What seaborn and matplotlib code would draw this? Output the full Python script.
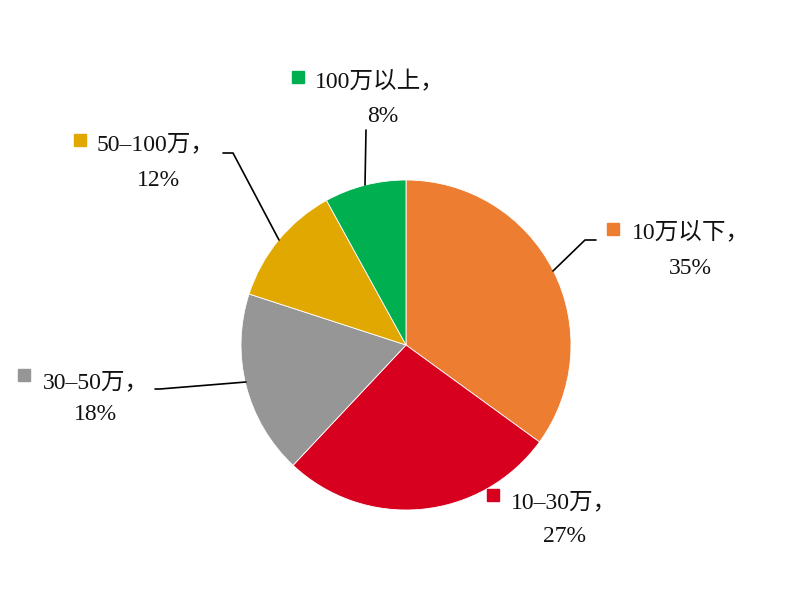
import matplotlib
matplotlib.use("Agg")
import matplotlib.pyplot as plt
import seaborn as sns

# data (clockwise from 12 o'clock)
labels = ["10万以下", "10–30万", "30–50万", "50–100万", "100万以上"]
shares = [35, 27, 18, 12, 8]
colors = ["#ED7D31", "#D7001F", "#969696", "#E0A800", "#00B050"]

sns.set_theme(style="white")
plt.rcParams['font.family'] = ['Liberation Serif', 'Noto Sans CJK SC', 'DejaVu Sans']

W, H = 798, 589
cx, cy, R = 406, 345, 165  # pie centre/radius in pixels


def px(x, y):
    # pixel -> data coords (1 unit = pie radius)
    return (x - cx) / R, (cy - y) / R


fig = plt.figure(figsize=(W / 100, H / 100), dpi=100)
ax = fig.add_axes([0, 0, 1, 1])

ax.pie(shares, colors=colors, startangle=90, counterclock=False, radius=1,
       wedgeprops=dict(edgecolor='white', linewidth=0.6))

# label layout: (marker px, text-centre line1 px, line2 px, leader points px)
layout = [
    ((613, 229), (691, 233), (690, 268), [(553, 271), (585, 240), (596, 240)]),
    ((493, 495), (564, 503), (565, 537), None),
    ((24, 375), (96, 383), (95, 414), [(246, 382), (160, 389), (155, 389)]),
    ((80, 140), (156, 145), (158, 181), [(279, 240), (233, 153), (223, 153)]),
    ((298, 77), (380, 82), (383, 117), [(365, 185), (366, 130)]),
]

for lab, val, col, (mk, t1, t2, lead) in zip(labels, shares, colors, layout):
    mx, my = px(*mk)
    ax.plot(mx, my, marker='s', markersize=8, color=col, linestyle='none')
    x1, y1 = px(*t1)
    ax.text(x1, y1, f"{lab}，", ha='center', va='center', fontsize=17, color='#111111')
    x2, y2 = px(*t2)
    ax.text(x2, y2, f"{val}%", ha='center', va='center', fontsize=17, color='#111111')
    if lead:
        pts = [px(*p) for p in lead]
        ax.plot([p[0] for p in pts], [p[1] for p in pts], color='black', linewidth=1.2)

ax.set_xlim(-cx / R, (W - cx) / R)
ax.set_ylim(-(H - cy) / R, cy / R)
ax.set_aspect('equal')
ax.axis('off')

fig.savefig("out.png", dpi=100, facecolor='white')
